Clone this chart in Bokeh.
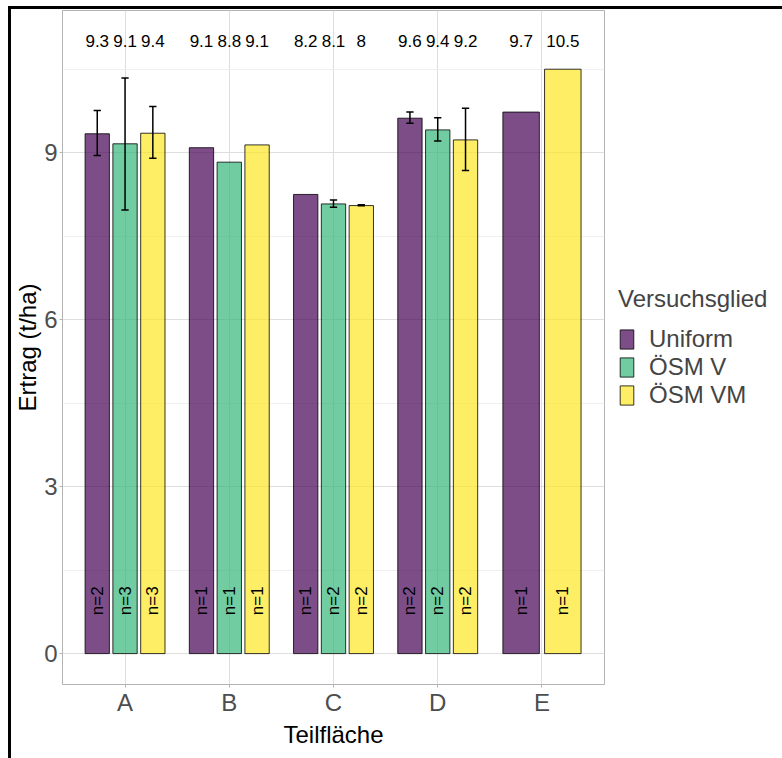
import math
from bokeh.plotting import figure
from bokeh.models import ColumnDataSource, Legend, LegendItem, FixedTicker, Range1d
from bokeh.core.properties import value
from bokeh.embed import file_html
from bokeh.resources import INLINE

# ---------------- data ----------------
categories = ["A", "B", "C", "D", "E"]
groups = ["Uniform", "ÖSM V", "ÖSM VM"]
colors = ["#440154", "#35B779", "#FDE725"]

uniform_mean = [9.34, 9.09, 8.25, 9.62, 9.73]
uniform_lower = [8.95, None, None, 9.53, None]
uniform_upper = [9.76, None, None, 9.73, None]
uniform_n = [2, 1, 1, 2, 1]
uniform_label = ["9.3", "9.1", "8.2", "9.6", "9.7"]

osmv_mean = [9.16, 8.83, 8.08, 9.41, None]
osmv_lower = [7.97, None, 8.02, 9.21, None]
osmv_upper = [10.34, None, 8.15, 9.63, None]
osmv_n = [3, 1, 2, 2, None]
osmv_label = ["9.1", "8.8", "8.1", "9.4", None]

osmvm_mean = [9.35, 9.14, 8.05, 9.23, 10.5]
osmvm_lower = [8.90, None, 8.045, 8.68, None]
osmvm_upper = [9.83, None, 8.065, 9.80, None]
osmvm_n = [3, 1, 2, 2, 1]
osmvm_label = ["9.4", "9.1", "8", "9.2", "10.5"]

y_ticks = [0, 3, 6, 9]
y_minor = [1.5, 4.5, 7.5, 10.5]

series = [
    (uniform_mean, uniform_lower, uniform_upper, uniform_n, uniform_label),
    (osmv_mean, osmv_lower, osmv_upper, osmv_n, osmv_label),
    (osmvm_mean, osmvm_lower, osmvm_upper, osmvm_n, osmvm_label),
]

FONT = "Liberation Sans"
DODGE = 0.8
BARW = 0.7
LABEL_Y = 11
N_Y = 0.95
CAP = 0.035

# ---------------- figure ----------------
p = figure(frame_width=542, frame_height=674, output_backend="svg", toolbar_location=None,
           x_range=Range1d(0.4, 5.6), y_range=Range1d(-0.555, 11.555),
           min_border_left=51, min_border_top=1, min_border_bottom=74,
           min_border_right=0)
p.styles = {"border-left": "3px solid black", "border-top": "3px solid black",
            "margin-left": "8px", "margin-top": "6px"}
p.background_fill_color = "white"
p.border_fill_color = "white"
p.outline_line_color = "#b3b3b3"
p.outline_line_width = 1

# dodge positions
present = []
for ci in range(len(categories)):
    present.append([gi for gi in range(len(groups)) if series[gi][0][ci] is not None])

legend_items = []
for gi, (mean, lo, hi, nn, lab) in enumerate(series):
    xs, tops, widths, ns, labs = [], [], [], [], []
    ex, elo, ehi = [], [], []
    for ci in range(len(categories)):
        if mean[ci] is None:
            continue
        pres = present[ci]
        k = len(pres)
        j = pres.index(gi)
        x = ci + 1 + (j - (k - 1) / 2) * DODGE / k
        xs.append(x)
        tops.append(mean[ci])
        widths.append(BARW / k)
        ns.append("n=%d" % nn[ci])
        labs.append(lab[ci])
        if lo[ci] is not None:
            ex.append(x)
            elo.append(lo[ci])
            ehi.append(hi[ci])
    src = ColumnDataSource(dict(x=xs, top=tops, w=widths, n=ns, lab=labs,
                                ly=[LABEL_Y] * len(xs), ny=[N_Y] * len(xs)))
    r = p.vbar(x="x", top="top", bottom=0, width="w", source=src,
               fill_color=colors[gi], fill_alpha=0.7, line_color="black",
               line_width=0.8)
    legend_items.append(LegendItem(label=groups[gi], renderers=[r]))
    esrc = ColumnDataSource(dict(x=ex, lo=elo, hi=ehi,
                                 x0=[v - CAP for v in ex], x1=[v + CAP for v in ex]))
    p.segment(x0="x", x1="x", y0="lo", y1="hi", source=esrc, line_color="black", line_width=1.5)
    p.segment(x0="x0", x1="x1", y0="lo", y1="lo", source=esrc, line_color="black", line_width=1.5)
    p.segment(x0="x0", x1="x1", y0="hi", y1="hi", source=esrc, line_color="black", line_width=1.5)
    p.text(x="x", y="ly", text="lab", source=src, text_align="center",
           text_baseline="middle", text_font=value(FONT), text_font_size="17px",
           text_color="black")
    p.text(x="x", y="ny", text="n", source=src, text_align="center",
           text_baseline="middle", angle=math.pi / 2, text_font=value(FONT),
           text_font_size="17px", text_color="black")

# axes
p.xaxis.ticker = FixedTicker(ticks=[1, 2, 3, 4, 5])
p.xaxis.major_label_overrides = {i + 1: c for i, c in enumerate(categories)}
p.yaxis.ticker = FixedTicker(ticks=y_ticks, minor_ticks=y_minor)
p.xaxis.axis_label = "Teilfläche"
p.yaxis.axis_label = "Ertrag (t/ha)"
for ax in (p.xaxis, p.yaxis):
    ax.axis_line_color = None
    ax.major_tick_line_color = "#b3b3b3"
    ax.major_tick_out = 3
    ax.major_tick_in = 0
    ax.minor_tick_line_color = None
    ax.major_label_text_font = FONT
    ax.major_label_text_font_size = "24px"
    ax.major_label_text_color = "#4d4d4d"
    ax.axis_label_text_font = FONT
    ax.axis_label_text_font_size = "24px"
    ax.axis_label_text_font_style = "normal"
    ax.axis_label_text_color = "black"
    ax.major_label_standoff = 1
p.xaxis.axis_label_standoff = 2
p.yaxis.axis_label_standoff = 0

p.xgrid.grid_line_color = "#dedede"
p.ygrid.grid_line_color = "#dedede"
p.ygrid.minor_grid_line_color = "#efefef"
p.xgrid.grid_line_width = 1
p.ygrid.grid_line_width = 1

legend = Legend(items=legend_items, location="left", title="Versuchsglied")
legend.title_text_font = FONT
legend.title_text_font_size = "24px"
legend.title_text_font_style = "normal"
legend.title_text_line_height = 1.0
legend.title_standoff = 12
legend.label_text_font = FONT
legend.label_text_font_size = "24px"
legend.label_text_line_height = 1.0
legend.glyph_width = 17
legend.glyph_height = 24
legend.label_height = 24
legend.label_standoff = 14
legend.spacing = 0
legend.padding = 4
legend.margin = 14
legend.border_line_color = None
legend.background_fill_alpha = 0
p.add_layout(legend, "right")

open("out.html", "w").write(file_html(p, INLINE))
